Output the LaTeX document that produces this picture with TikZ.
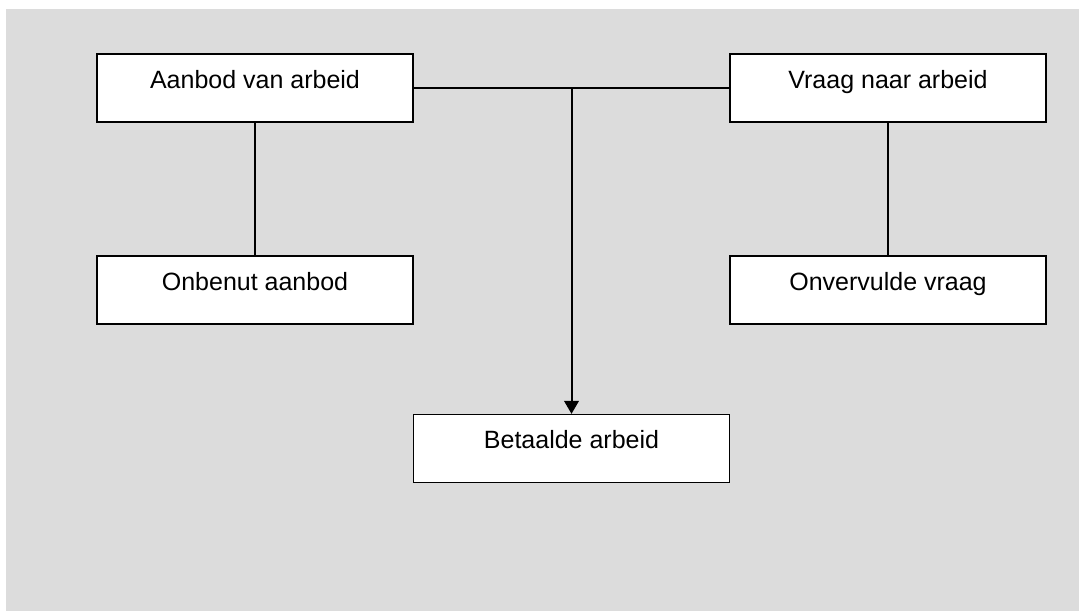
\documentclass[tikz,border=0pt]{standalone}
\usepackage{fontspec}
\setmainfont{Liberation Sans}
\usetikzlibrary{positioning}
\usetikzlibrary{arrows.meta}
\definecolor{bggray}{HTML}{DCDCDC}
\tikzset{
  box/.style={draw=black, line width=0.65pt, fill=white, minimum width=158pt, minimum height=34pt,
    inner sep=0pt, text height=9pt, text depth=9pt, font=\fontsize{12.5}{15}\selectfont},
  thin line/.style={line width=0.55pt},
  thick line/.style={line width=1pt}
}
\begin{document}
\begin{tikzpicture}[x=0.5pt, y=-0.5pt]
\useasboundingbox (0,0) rectangle (1079,611);
\fill[bggray] (6,9) rectangle (1079,611);

% boxes
\node[box] (aanbod) at (255,88) {Aanbod van arbeid};
\node[box] (vraag) at (888,88) {Vraag naar arbeid};
\node[box] (onbenut) at (255,290) {Onbenut aanbod};
\node[box] (onvervuld) at (888,290) {Onvervulde vraag};
\node[box] (betaald) at (571.5,448.5) {Betaalde arbeid};

% connectors
\coordinate (split) at (571.5,88);
\draw[thin line] (split) -- (vraag.west);
\draw[thick line] (aanbod.east) -- (split);
\draw[thick line, -{Triangle[length=6.5pt, width=7.3pt]}] (split) -- (betaald.north);
\draw[thin line] (aanbod.south) -- (onbenut.north);
\draw[thin line] (vraag.south) -- (onvervuld.north);

\end{tikzpicture}
\end{document}
